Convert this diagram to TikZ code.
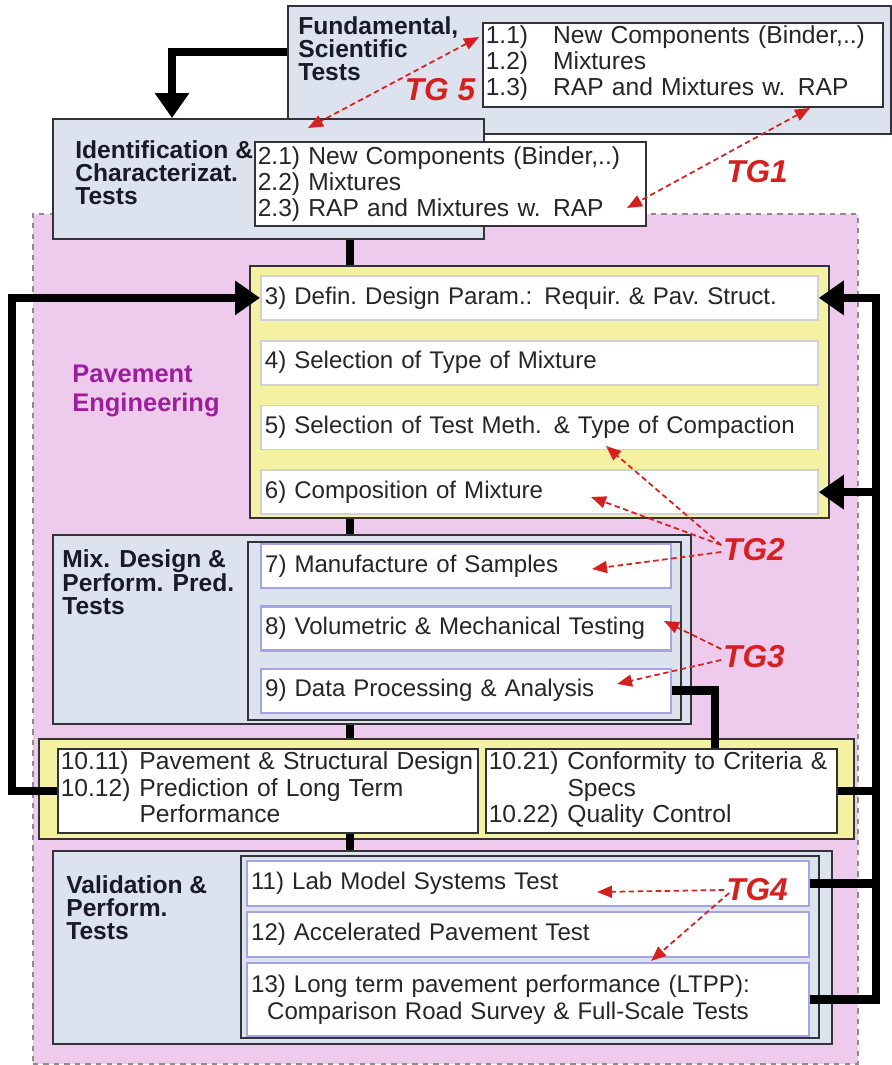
\documentclass[tikz,border=0pt]{standalone}
\usepackage{fontspec}
\setmainfont{Liberation Sans}
\usetikzlibrary{arrows.meta,positioning,calc}

\definecolor{panelgray}{RGB}{221,227,238}
\definecolor{pavpink}{RGB}{238,202,236}
\definecolor{stepyellow}{RGB}{245,241,163}
\definecolor{pavpurple}{RGB}{158,28,158}
\definecolor{tgred}{RGB}{214,32,32}
\definecolor{lavender}{RGB}{165,165,228}
\definecolor{framegray}{RGB}{50,50,55}
\definecolor{labelink}{RGB}{25,25,40}

\tikzset{
  pe/region/.style={draw=black!45, dashed, line width=0.3mm, fill=pavpink, anchor=north west, inner sep=0pt},
  pe/panel/.style={draw=framegray, line width=0.4mm, fill=panelgray, anchor=north west, inner sep=0pt},
  pe/band/.style={draw=framegray, line width=0.4mm, fill=stepyellow, anchor=north west, inner sep=0pt},
  pe/frame/.style={draw=framegray, line width=0.45mm, anchor=north west, inner sep=0pt},
  pe/label/.style={anchor=north west, inner sep=0pt, align=left, text=labelink, font=\fontsize{14}{13.2}\selectfont\bfseries},
  pe/list/.style={draw=framegray, line width=0.3mm, fill=white, anchor=north west, inner xsep=0.6mm, inner ysep=0pt, align=left, font=\fontsize{14}{14.8}\selectfont, text=black!85},
  pe/stepbox/.style={draw=black!18, line width=0.35mm, fill=white, anchor=north west, inner xsep=0.8mm, inner ysep=0pt, align=left, font=\fontsize{13.7}{15}\selectfont, text=black!85},
  pe/teststep/.style={pe/stepbox, draw=lavender, line width=0.45mm},
  pe/flow/.style={line width=1.7mm},
  pe/feed/.style={pe/flow, -{Triangle[width=6.6mm,length=5mm]}},
  pe/tg/.style={color=tgred, line width=0.35mm, dash pattern=on 1.1mm off 0.7mm, -{Triangle[width=2.4mm,length=3mm]}},
  pe/tgboth/.style={pe/tg, {Triangle[width=2.4mm,length=3mm]}-{Triangle[width=2.4mm,length=3mm]}},
  pe/tglabel/.style={text=tgred, inner sep=1pt, font=\fontsize{18}{18}\selectfont\bfseries\itshape}
}

\begin{document}
\begin{tikzpicture}[x=0.2mm, y=-0.2mm]
  \useasboundingbox (0,0) rectangle (891,1065);

  % pavement engineering area
  \node[pe/region, minimum width=165mm, minimum height=170mm] (paveng) at (32,213) {};
  \node[pe/label, text=pavpurple, font=\fontsize{14.5}{16}\selectfont\bfseries] (pavlab) at (72,365) {Pavement\\Engineering};

  % fundamental tests
  \node[pe/panel, minimum width=120.6mm, minimum height=25.6mm] (fund) at (287,5) {};
  \node[pe/label] (fundlab) at (298,16) {Fundamental,\\Scientific\\Tests};
  \node[pe/list, text width=78.8mm, minimum height=16.8mm] (fundlist) at (482,22) {%
    \begin{tabular}{@{}l@{\hspace{5mm}}l@{}}
      1.1) & New Components (Binder,..)\\
      1.2) & Mixtures\\
      1.3) & RAP and Mixtures w. RAP
    \end{tabular}};

  % identification
  \node[pe/panel, minimum width=86.2mm, minimum height=24mm] (ident) at (52,118) {};
  \node[pe/label] (identlab) at (75,140) {Identification \&\\Characterizat.\\Tests};
  \node[pe/list, text width=77mm, minimum height=16.8mm] (identlist) at (254,141)
    {2.1) New Components (Binder,..)\\2.2) Mixtures\\2.3) RAP and Mixtures w. RAP};

  % design steps 3 to 6
  \node[pe/band, minimum width=115.8mm, minimum height=50.4mm] (design) at (249,265) {};
  \node[pe/stepbox, text width=109.8mm, minimum height=8.8mm] (s3) at (260,275) {3) Defin.\ Design Param.: Requir.\ \& Pav.\ Struct.};
  \node[pe/stepbox, text width=109.8mm, minimum height=8.8mm, below=3.8mm of s3] (s4) {4) Selection of Type of Mixture};
  \node[pe/stepbox, text width=109.8mm, minimum height=8.8mm, below=3.8mm of s4] (s5) {5) Selection of Test Meth. \& Type of Compaction};
  \node[pe/stepbox, text width=109.8mm, minimum height=8.8mm, below=3.8mm of s5] (s6) {6) Composition of Mixture};

  % mix design
  \node[pe/panel, minimum width=127.6mm, minimum height=37.8mm] (mix) at (52,534) {};
  \node[pe/label, font=\fontsize{14}{12.6}\selectfont\bfseries] (mixlab) at (62,549) {Mix. Design \&\\Perform. Pred.\\Tests};
  \node[pe/frame, minimum width=86.6mm, minimum height=35.6mm] (mixin) at (247,541) {};
  \node[pe/teststep, text width=80.4mm, minimum height=8.8mm] (s7) at (260,543) {7) Manufacture of Samples};
  \node[pe/teststep, text width=80.4mm, minimum height=8.8mm, below=3.2mm of s7] (s8) {8) Volumetric \& Mechanical Testing};
  \node[pe/teststep, text width=80.4mm, minimum height=8.8mm, below=3.2mm of s8] (s9) {9) Data Processing \& Analysis};

  % design results
  \node[pe/band, minimum width=163mm, minimum height=20mm] (result) at (38,738) {};
  \node[pe/list, text width=82.8mm, minimum height=16.8mm, font=\fontsize{14}{15.2}\selectfont] (c1) at (57,748) {%
    \begin{tabular}{@{}l@{\hspace{1.8mm}}l@{}}
      10.11) & Pavement \& Structural Design\\
      10.12) & Prediction of Long Term\\
             & Performance
    \end{tabular}};
  \node[pe/list, text width=69mm, minimum height=16.8mm, font=\fontsize{14}{15.2}\selectfont] (c2) at (485,748) {%
    \begin{tabular}{@{}l@{\hspace{1.8mm}}l@{}}
      10.21) & Conformity to Criteria \&\\
             & Specs\\
      10.22) & Quality Control
    \end{tabular}};

  % validation
  \node[pe/panel, minimum width=155.8mm, minimum height=38.6mm] (valid) at (52,850) {};
  \node[pe/label] (validlab) at (66,875) {Validation \&\\Perform.\\Tests};
  \node[pe/frame, minimum width=115.6mm, minimum height=36.4mm] (valin) at (240,855) {};
  \node[pe/teststep, text width=110.8mm, minimum height=9mm] (s11) at (246,860) {11) Lab Model Systems Test};
  \node[pe/teststep, text width=110.8mm, minimum height=9mm, below=0.7mm of s11] (s12) {12) Accelerated Pavement Test};
  \node[pe/teststep, text width=110.8mm, minimum height=14.6mm, below=0.8mm of s12] (s13)
    {13) Long term pavement performance (LTPP):\\\hspace*{3.2mm}Comparison Road Survey \& Full-Scale Tests};

  % main flow
  \coordinate (spine) at (350,0);
  \coordinate (loopx) at (12,0);
  \coordinate (trunk) at (876,0);
  \coordinate (jog) at (715,0);
  \draw[pe/feed] ([yshift=-9.4mm]fund.north west) -| ([xshift=24mm]ident.north west);
  \draw[pe/flow] (ident.south -| spine) -- (design.north -| spine);
  \draw[pe/flow] (design.south -| spine) -- (mix.north -| spine);
  \draw[pe/flow] (mix.south -| spine) -- (result.north -| spine);
  \draw[pe/flow] (c1.south -| spine) -- (valid.north -| spine);
  \draw[pe/flow] (s9.east) -| (c2.north -| jog);

  % feedback loops
  \draw[pe/feed] (c1.west) -| (loopx |- s3.west) -- (s3.west);
  \draw[pe/feed] (s13.east) -| (trunk |- s3.east) -- (s3.east);
  \draw[pe/flow] (s11.east) -- (trunk |- s11.east);
  \draw[pe/flow] (c2.east) -- (trunk |- c2.east);
  \draw[pe/feed] (trunk |- s6.east) -- (s6.east);

  % task groups
  \node[pe/tglabel] (tg5) at (440,90) {TG 5};
  \node[pe/tglabel] (tg1) at (757,172) {TG1};
  \node[pe/tglabel] (tg2) at (754,550) {TG2};
  \node[pe/tglabel] (tg3) at (754,657) {TG3};
  \node[pe/tglabel] (tg4) at (757,890) {TG4};

  \coordinate (t5a) at (479,37);
  \coordinate (t5b) at (308,128);
  \coordinate (t1a) at (810,108);
  \coordinate (t1b) at (627,208);
  \coordinate (t2a) at (606,446);
  \coordinate (t2b) at (591,497);
  \coordinate (t2c) at (592,569);
  \coordinate (t3a) at (664,621);
  \coordinate (t3b) at (617,684);
  \coordinate (t4a) at (597,892);
  \coordinate (t4b) at (651,961);

  \draw[pe/tgboth] (t5a) -- (t5b);
  \draw[pe/tgboth] (t1a) -- (t1b);
  \draw[pe/tg] ([yshift=1mm]tg2.west) -- (t2a);
  \draw[pe/tg] ([yshift=1mm]tg2.west) -- (t2b);
  \draw[pe/tg] ([yshift=-0.4mm]tg2.west) -- (t2c);
  \draw[pe/tg] ([yshift=1.6mm]tg3.west) -- (t3a);
  \draw[pe/tg] ([yshift=-0.6mm]tg3.west) -- (t3b);
  \draw[pe/tg] (tg4.west) -- (t4a);
  \draw[pe/tg] ([yshift=-0.6mm,xshift=1mm]tg4.west) -- (t4b);
\end{tikzpicture}
\end{document}
